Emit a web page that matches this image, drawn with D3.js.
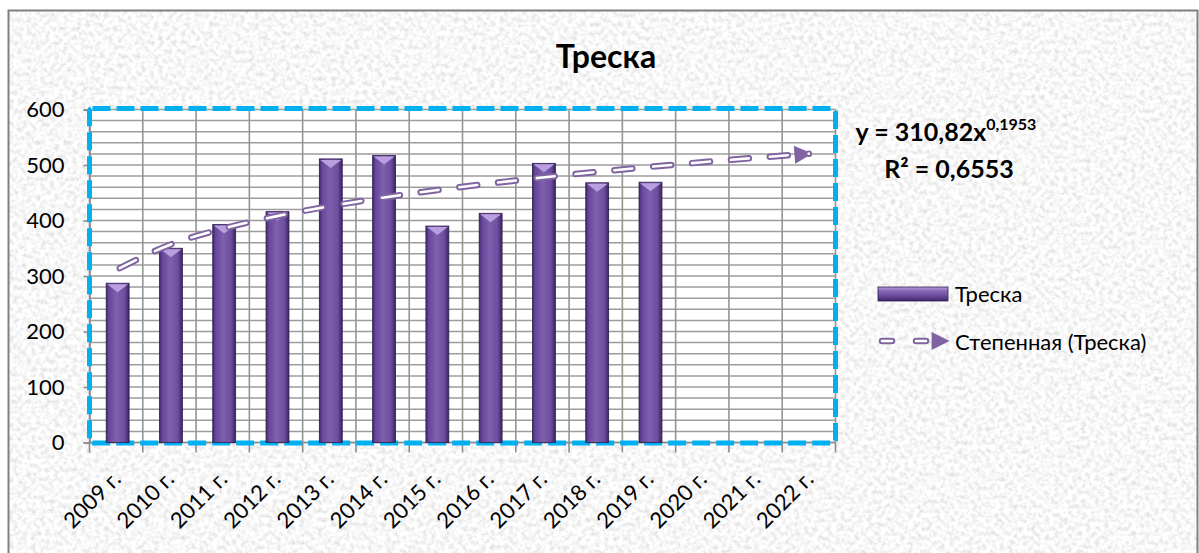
<!DOCTYPE html>
<html>
<head>
<meta charset="utf-8">
<script src="https://cdn.jsdelivr.net/npm/d3@7"></script>
<style>
  html, body { margin: 0; padding: 0; background: #fff; }
  svg { display: block; font-family: Lato, "Open Sans", sans-serif; }
</style>
</head>
<body>
<svg id="chart" width="1199" height="553"></svg>
<script>
// data
var years = ["2009 г.", "2010 г.", "2011 г.", "2012 г.", "2013 г.", "2014 г.", "2015 г.",
             "2016 г.", "2017 г.", "2018 г.", "2019 г.", "2020 г.", "2021 г.", "2022 г."];
var cod = [287, 350, 393, 416, 511, 517, 390, 413, 503, 468, 469];
var yTicks = [0, 100, 200, 300, 400, 500, 600];
// power trendline as printed on the chart
var trendA = 310.82, trendB = 0.1953, trendR2 = "0,6553";

var svg = d3.select("#chart");

var plot = {left: 89.5, right: 835.5, top: 109.5, bottom: 442.5};

var defs = svg.append("defs");

// granite-like background
var f = defs.append("filter").attr("id", "granite")
    .attr("x", 0).attr("y", 0).attr("width", 1).attr("height", 1);
f.append("feTurbulence").attr("type", "fractalNoise")
    .attr("baseFrequency", 0.22).attr("numOctaves", 3).attr("seed", 7).attr("result", "n");
f.append("feColorMatrix").attr("type", "matrix")
    .attr("values", "0.55 0 0 0 0.66  0.55 0 0 0 0.66  0.55 0 0 0 0.66  0 0 0 0 1");

// bar gradient
var g = defs.append("linearGradient").attr("id", "barGrad").attr("x1", 0).attr("x2", 1).attr("y1", 0).attr("y2", 0);
[["0%", "#3f2768"], ["12%", "#65479a"], ["45%", "#7f5fae"], ["80%", "#6d4e9f"], ["100%", "#3a2360"]]
    .forEach(function (s) { g.append("stop").attr("offset", s[0]).attr("stop-color", s[1]); });

var lg = defs.append("linearGradient").attr("id", "legGrad").attr("x1", 0).attr("x2", 0).attr("y1", 0).attr("y2", 1);
[["0%", "#b79fdc"], ["25%", "#8a6bb8"], ["60%", "#6e4f9f"], ["100%", "#3f2768"]]
    .forEach(function (s) { lg.append("stop").attr("offset", s[0]).attr("stop-color", s[1]); });

defs.append("marker").attr("id", "arrow")
    .attr("viewBox", "0 0 10 10").attr("refX", 8).attr("refY", 5)
    .attr("markerWidth", 19).attr("markerHeight", 18)
    .attr("markerUnits", "userSpaceOnUse").attr("orient", "auto")
  .append("path").attr("d", "M0,0 L10,5 L0,10 Z").attr("fill", "#8064a2");

// chart area
svg.append("rect").attr("x", 8).attr("y", 10).attr("width", 1190).attr("height", 560)
    .attr("filter", "url(#granite)");
svg.append("rect").attr("x", 8.5).attr("y", 10.5).attr("width", 1189).attr("height", 600)
    .attr("fill", "none").attr("stroke", "#808080").attr("stroke-width", 2);

// scales
var x = d3.scaleBand().domain(years).range([plot.left, plot.right])
    .paddingInner(0.57).paddingOuter(0.285);
var step = x.step();
var y = d3.scaleLinear().domain([0, 600]).range([plot.bottom, plot.top]);

svg.append("rect").attr("x", plot.left).attr("y", plot.top)
    .attr("width", plot.right - plot.left).attr("height", plot.bottom - plot.top)
    .attr("fill", "#fff");

// grid
svg.append("g").selectAll("line").data(d3.range(0, 601, 20)).join("line")
    .attr("x1", plot.left).attr("x2", plot.right)
    .attr("y1", function (d) { return y(d); }).attr("y2", function (d) { return y(d); })
    .attr("stroke", "#9d9d9d").attr("stroke-width", 1.5);
svg.append("g").selectAll("line").data(d3.range(0, years.length + 1)).join("line")
    .attr("x1", function (i) { return plot.left + i * step; })
    .attr("x2", function (i) { return plot.left + i * step; })
    .attr("y1", plot.top).attr("y2", plot.bottom)
    .attr("stroke", "#959595").attr("stroke-width", 1.6);

// y axis
var yAxis = svg.append("g").attr("transform", "translate(" + plot.left + ",0)")
    .call(d3.axisLeft(y).tickValues(yTicks).tickSize(6).tickPadding(6));
yAxis.select(".domain").attr("stroke", "#8c8c8c").attr("stroke-width", 1.6);
yAxis.selectAll(".tick line").attr("stroke", "#8c8c8c").attr("stroke-width", 1.6);
yAxis.selectAll("text").attr("font-size", 22).attr("fill", "#000")
    .attr("font-family", "Lato, sans-serif").attr("dx", "-13px");

// x axis
svg.append("line").attr("x1", plot.left).attr("x2", plot.right)
    .attr("y1", plot.bottom).attr("y2", plot.bottom)
    .attr("stroke", "#8c8c8c").attr("stroke-width", 1.6);
svg.append("g").selectAll("line").data(d3.range(0, years.length + 1)).join("line")
    .attr("x1", function (i) { return plot.left + i * step; })
    .attr("x2", function (i) { return plot.left + i * step; })
    .attr("y1", plot.bottom).attr("y2", plot.bottom + 10)
    .attr("stroke", "#8c8c8c").attr("stroke-width", 1.6);
svg.append("g").selectAll("text").data(years).join("text")
    .attr("transform", function (d) {
        return "translate(" + (x(d) + x.bandwidth() / 2 + 6) + "," + (plot.bottom + 38) + ") rotate(-45)";
    })
    .attr("text-anchor", "end").attr("font-size", 22).attr("fill", "#000")
    .text(function (d) { return d; });

// plot area border
svg.append("rect").attr("x", plot.left).attr("y", plot.top - 1)
    .attr("width", plot.right - plot.left).attr("height", plot.bottom - plot.top + 1.5)
    .attr("rx", 3)
    .attr("fill", "none").attr("stroke", "#00b0f0").attr("stroke-width", 5)
    .attr("stroke-dasharray", "18 6");

// bars
var bars = svg.append("g").selectAll("g").data(cod).join("g");
bars.append("rect")
    .attr("x", function (d, i) { return x(years[i]) + 1.5; })
    .attr("y", function (d) { return y(d); })
    .attr("width", x.bandwidth())
    .attr("height", function (d) { return y(0) - y(d); })
    .attr("fill", "url(#barGrad)").attr("stroke", "#2f1d4d").attr("stroke-width", 0.8);
bars.append("path")
    .attr("d", function (d, i) {
        var x0 = x(years[i]) + 2.5, x1 = x0 + x.bandwidth() - 2, t = y(d) + 1;
        return "M" + x0 + "," + t + "L" + x1 + "," + t + "L" + ((x0 + x1) / 2) + "," + (t + 8) + "Z";
    })
    .attr("fill", "#b99fe0");

// power trendline
var trend = years.map(function (d, i) { return {year: d, v: trendA * Math.pow(i + 1, trendB)}; });
var line = d3.line()
    .x(function (d) { return x(d.year) + x.bandwidth() / 2; })
    .y(function (d) { return y(d.v); })
    .curve(d3.curveMonotoneX);
svg.append("path").datum(trend).attr("d", line)
    .attr("fill", "none").attr("stroke", "#8064a2").attr("stroke-width", 6.5)
    .attr("stroke-linecap", "round").attr("stroke-dasharray", "18 21")
    .attr("stroke-dashoffset", -4).attr("marker-end", "url(#arrow)");
svg.append("path").datum(trend).attr("d", line)
    .attr("fill", "none").attr("stroke", "#fff").attr("stroke-width", 2.6)
    .attr("stroke-linecap", "round").attr("stroke-dasharray", "18 21")
    .attr("stroke-dashoffset", -4);

// title
svg.append("text").attr("x", 606).attr("y", 68).attr("text-anchor", "middle")
    .attr("font-size", 32).attr("font-weight", "bold").text("Треска");

// equation
var eq = svg.append("text").attr("x", 946).attr("y", 141).attr("text-anchor", "middle")
    .attr("font-size", 25).attr("font-weight", "bold");
eq.append("tspan").text("y = " + String(trendA).replace(".", ",") + "x");
eq.append("tspan").attr("dy", -11).attr("font-size", 16)
    .text(String(trendB).replace(".", ","));
svg.append("text").attr("x", 949).attr("y", 178).attr("text-anchor", "middle")
    .attr("font-size", 25).attr("font-weight", "bold").text("R² = " + trendR2);

// legend
svg.append("rect").attr("x", 878).attr("y", 287).attr("width", 70).attr("height", 14)
    .attr("fill", "url(#legGrad)").attr("stroke", "#2f1d4d").attr("stroke-width", 0.8);
svg.append("text").attr("x", 955).attr("y", 302).attr("font-size", 22).text("Треска");
svg.append("line").attr("x1", 882).attr("x2", 946).attr("y1", 341).attr("y2", 341)
    .attr("stroke", "#8064a2").attr("stroke-width", 6.5).attr("stroke-linecap", "round")
    .attr("stroke-dasharray", "10 24").attr("marker-end", "url(#arrow)");
svg.append("line").attr("x1", 882).attr("x2", 936).attr("y1", 341).attr("y2", 341)
    .attr("stroke", "#fff").attr("stroke-width", 2.6).attr("stroke-linecap", "round")
    .attr("stroke-dasharray", "10 24");
svg.append("text").attr("x", 955).attr("y", 350).attr("font-size", 22).text("Степенная (Треска)");
</script>
</body>
</html>
